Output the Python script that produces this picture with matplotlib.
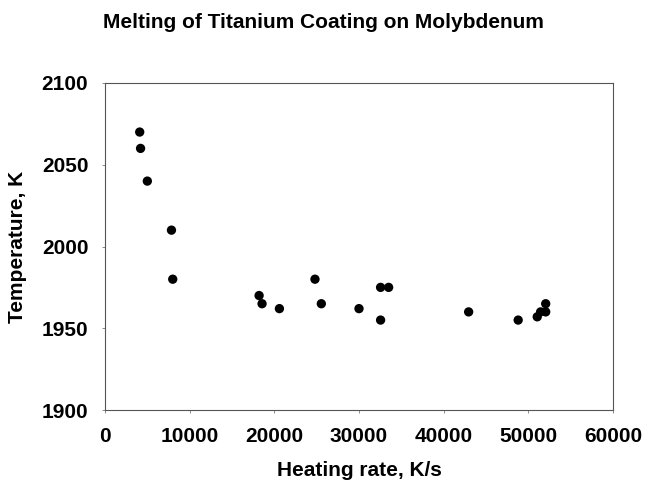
import matplotlib
matplotlib.use("Agg")
import matplotlib.pyplot as plt
from matplotlib.ticker import MultipleLocator

plt.rcParams['font.family'] = ['Liberation Sans', 'DejaVu Sans']

# heating rate (K/s) and melting temperature (K)
rate = [4100, 4200, 5000, 7850, 8000, 18200, 18550, 20600, 24800, 25550,
        30000, 32550, 33500, 32550, 42950, 48800, 51050, 51450, 52050, 52050]
temp = [2070, 2060, 2040, 2010, 1980, 1970, 1965, 1962, 1980, 1965,
        1962, 1975, 1975, 1955, 1960, 1955, 1957, 1960, 1965, 1960]

x_ticks = [0, 10000, 20000, 30000, 40000, 50000, 60000]
y_ticks = [1900, 1950, 2000, 2050, 2100]

fig = plt.figure(figsize=(6.46, 4.83), dpi=100)
ax = fig.add_axes([105 / 646, 1 - 410 / 483, 508 / 646, 327 / 483])

ax.scatter(rate, temp, s=45, color='black', edgecolors='none', zorder=3)

ax.set_xlim(0, 60000)
ax.set_ylim(1900, 2100)
ax.set_xticks(x_ticks)
ax.set_yticks(y_ticks)
ax.xaxis.set_minor_locator(MultipleLocator(2000))
ax.yaxis.set_minor_locator(MultipleLocator(10))

for s in ax.spines.values():
    s.set_color('#555555')
    s.set_linewidth(0.8)

ax.tick_params(axis='both', which='major', direction='out', length=2,
               width=0.6, color='#777777', labelsize=15, pad=10)
ax.tick_params(axis='both', which='minor', length=0)
for lab in ax.get_xticklabels() + ax.get_yticklabels():
    lab.set_fontweight('bold')

ax.set_xlabel('Heating rate, K/s', fontsize=15, fontweight='bold')
ax.set_ylabel('Temperature, K', fontsize=15, fontweight='bold')
ax.xaxis.set_label_coords(0.5, -(461 - 410) / 327)
ax.yaxis.set_label_coords(-(105 - 27) / 508, 0.5)
fig.text(0.5, 1 - 22 / 483, 'Melting of Titanium Coating on Molybdenum',
         ha='center', va='center', fontsize=15, fontweight='bold')

fig.savefig('out.png', dpi=100)
